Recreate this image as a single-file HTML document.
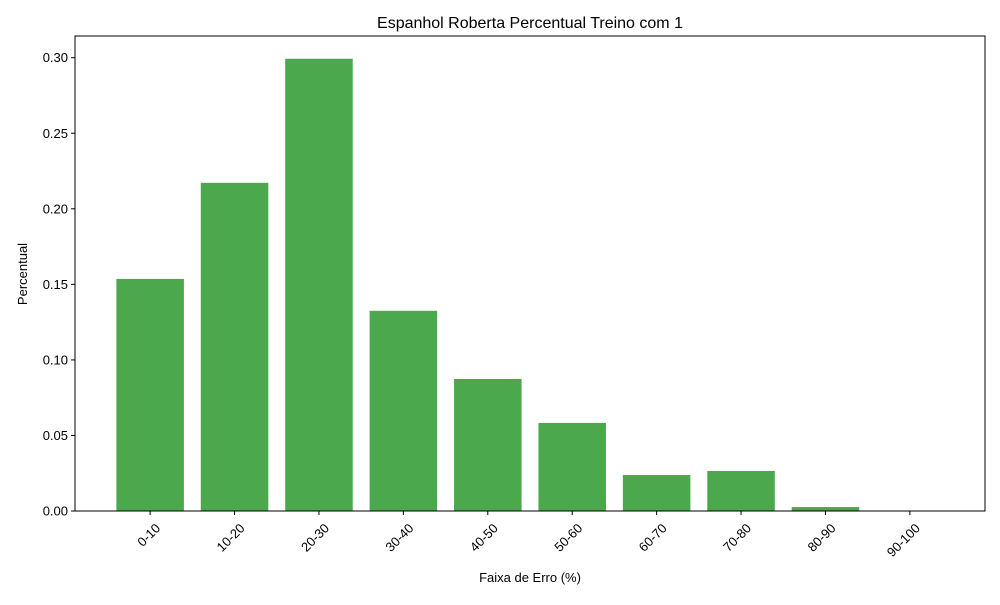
<!DOCTYPE html>
<html><head><meta charset="utf-8"><style>
body{margin:0;background:#fff;}
svg text{font-family:"Liberation Sans","DejaVu Sans",sans-serif;fill:#000;}
</style></head><body>
<svg id="chart" width="1000" height="600" xmlns="http://www.w3.org/2000/svg">
<rect width="1000" height="600" fill="#fff"/>
<text x="530" y="28" text-anchor="middle" font-size="16">Espanhol Roberta Percentual Treino com 1</text>
<g id="bars"></g>
<g id="yticks"></g>
<g id="xticks"></g>
<rect x="75" y="36" width="910" height="475" fill="none" stroke="#000" stroke-width="1"/>
<text x="530" y="582" text-anchor="middle" font-size="13">Faixa de Erro (%)</text>
<text transform="translate(27,274) rotate(-90)" text-anchor="middle" font-size="13">Percentual</text>
</svg>
<script>
const categories=["0-10","10-20","20-30","30-40","40-50","50-60","60-70","70-80","80-90","90-100"];
const values=[0.1536,0.2172,0.2993,0.1325,0.0874,0.0583,0.0238,0.0265,0.0026,0.0];
const yTicks=[0,0.05,0.10,0.15,0.20,0.25,0.30];
const yTickLabels=["0.00","0.05","0.10","0.15","0.20","0.25","0.30"];
const NS="http://www.w3.org/2000/svg";
const L=75,R=985,T=36,B=511;
const xmin=-0.89,xmax=categories.length-1+0.89;
const ymax=0.31437;
function xs(i){return L+(i-xmin)/(xmax-xmin)*(R-L);}
function ys(v){return B-v/ymax*(B-T);}
function mk(tag,attrs,parent){const e=document.createElementNS(NS,tag);for(const k in attrs)e.setAttribute(k,attrs[k]);parent.appendChild(e);return e;}
const bars=document.getElementById('bars'),yg=document.getElementById('yticks'),xg=document.getElementById('xticks');
const bw=0.8*(R-L)/(xmax-xmin);
values.forEach((v,i)=>{
 const r=mk('rect',{x:xs(i)-bw/2,y:ys(v),width:bw,height:B-ys(v),fill:'#4ca84c'},bars);
 
 
});
yTicks.forEach((t,i)=>{
 const y=ys(t);
 const l=mk('line',{x1:L-4,x2:L,y1:y,y2:y,stroke:'#000'},yg);
 
 
 const tx=mk('text',{x:L-7,y:y+4.5,'text-anchor':'end','font-size':'13'},yg);
 tx.textContent=yTickLabels[i];
 
 
});
categories.forEach((c,i)=>{
 const x=xs(i);
 const l=mk('line',{x1:x,x2:x,y1:B,y2:B+4,stroke:'#000'},xg);
 
 
 const tx=mk('text',{x:0,y:0,'text-anchor':'end','font-size':'13',transform:`translate(${x+11},${B+18}) rotate(-45)`},xg);
 tx.textContent=c;
 
 
});
</script>
</body></html>
